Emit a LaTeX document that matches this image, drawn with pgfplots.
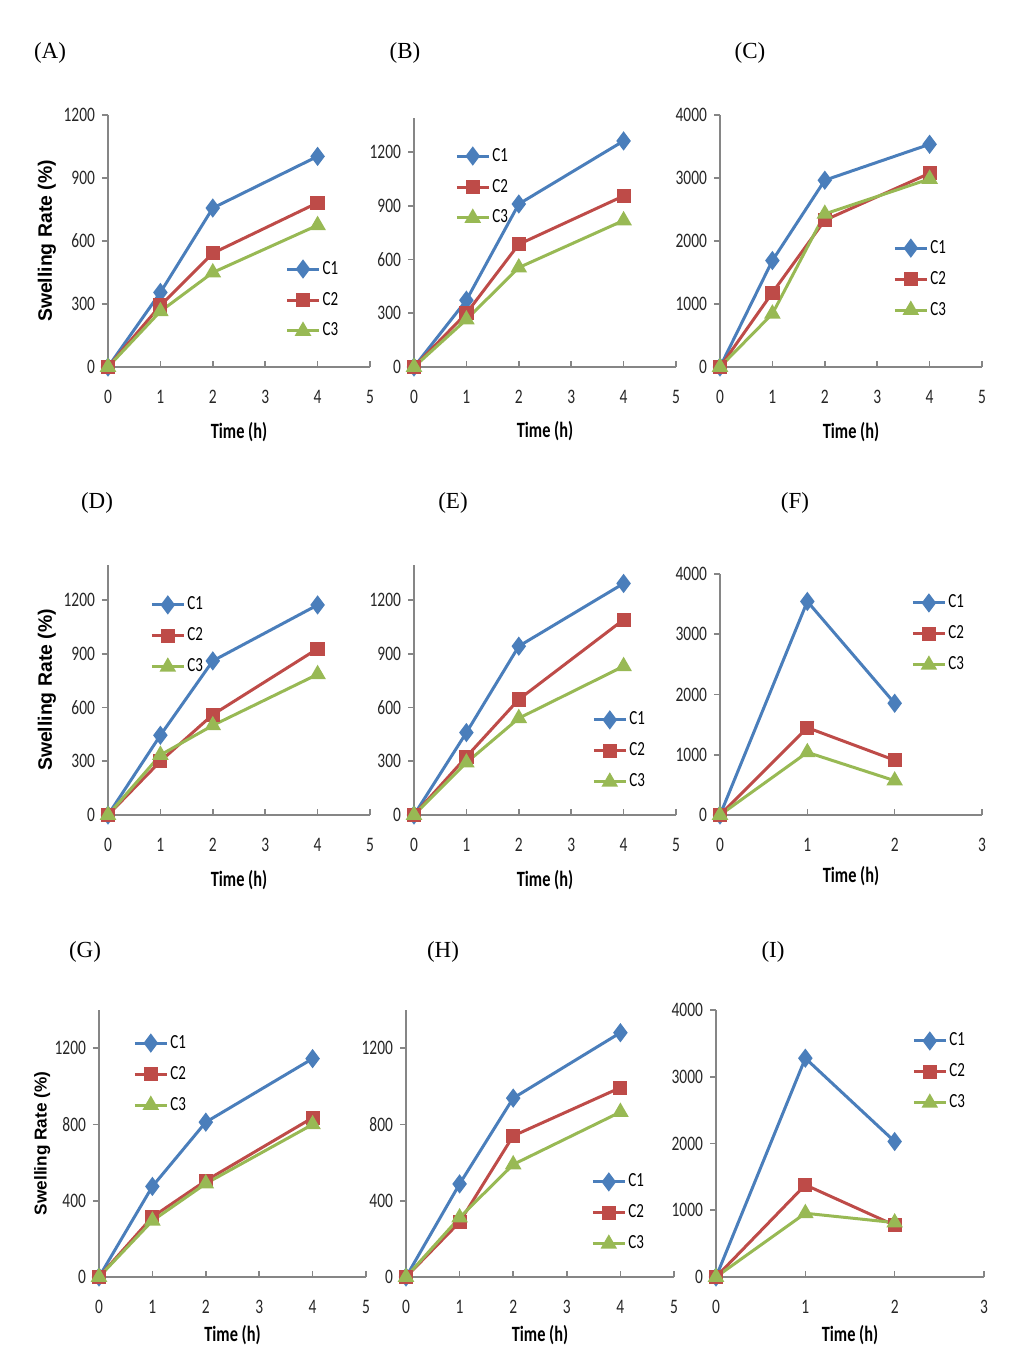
\documentclass[border=0pt]{standalone}
\usepackage{fontspec}
\usepackage{pgfplots}
\pgfplotsset{compat=1.18}
\setmainfont{Liberation Serif}
\newfontfamily\calf[FakeStretch=0.75]{Carlito}
\newfontfamily\arl{Liberation Sans}

\definecolor{cone}{HTML}{4A7EBB}
\definecolor{ctwo}{HTML}{BE4B48}
\definecolor{cthree}{HTML}{98B954}
\definecolor{axgray}{HTML}{868686}

\pgfplotscreateplotcyclelist{keit}{
  cone, line width=1.5pt, mark=diamond*, mark size=3.6pt, mark options={solid}\\
  ctwo, line width=1.5pt, mark=square*, mark size=2.8pt, mark options={solid}\\
  cthree, line width=1.5pt, mark=triangle*, mark size=3.3pt, mark options={solid}\\
}

\pgfplotsset{
  panel/.style={
    scale only axis, anchor=south west, clip=false,
    axis x line*=bottom, axis y line*=left,
    axis line style={axgray, line width=0.8pt, -},
    tick style={axgray, line width=0.8pt},
    major tick length=3pt, xtick align=inside, ytick align=outside,
    xmin=0, xmax=5, xtick={0,...,5}, ymin=0,
    cycle list name=keit,
    /pgf/number format/1000 sep={},
    /pgf/number format/assume math mode=true,
    ticklabel style={font=\calf\fontsize{10.3}{12}\selectfont, text=black!85},
    xticklabel style={yshift=-8pt},
    xlabel={Time (h)},
    xlabel style={font=\calf\bfseries\fontsize{10.9}{12}\selectfont, anchor=center},
    ylabel style={font=\arl\bfseries\fontsize{9.7}{11}\selectfont, anchor=center,
      at={(axis description cs:-0.233,0.5)}},
    legend cell align=left,
    legend style={draw=none, fill=none, anchor=north west, inner sep=0pt,
      row sep=5.5pt, font=\calf\fontsize{10}{12}\selectfont,
      nodes={inner sep=1pt}},
    legend image code/.code={\draw[mark repeat=2,mark phase=2,##1]
      plot coordinates {(0pt,0pt) (8pt,0pt) (16pt,0pt)};},
  },
  rowone/.style={width=131pt, height=126pt,
    xlabel style={at={(axis description cs:0.5,-0.258)}}},
  rowtwo/.style={width=131pt, height=125pt,
    xlabel style={at={(axis description cs:0.5,-0.26)}}},
  rowthree/.style={width=133.5pt, height=133.5pt,
    xlabel style={at={(axis description cs:0.5,-0.217)}}},
}

\begin{document}
\begin{tikzpicture}
\useasboundingbox (0,0) rectangle (518pt,-683pt);

% panel letters
\begin{scope}[font=\fontsize{11.5}{13}\selectfont]
\node at (25pt,-26.5pt) {(A)};
\node at (202.5pt,-26.5pt) {(B)};
\node at (375pt,-26.5pt) {(C)};
\node at (48.5pt,-251.5pt) {(D)};
\node at (226.5pt,-251.5pt) {(E)};
\node at (397.5pt,-251.5pt) {(F)};
\node at (42.5pt,-476pt) {(G)};
\node at (221.5pt,-476pt) {(H)};
\node at (386.5pt,-476pt) {(I)};
\end{scope}

% (A)
\begin{axis}[panel, rowone, at={(54pt,-183.5pt)}, ymax=1200, ytick={0,300,...,1200},
  ylabel={Swelling Rate (\%)}, legend style={at={(0.676,0.430)}}]
\addplot coordinates {(0,0)(1,355)(2,757)(4,1003)};
\addplot coordinates {(0,0)(1,293)(2,542)(4,782)};
\addplot coordinates {(0,0)(1,265)(2,450)(4,675)};
\legend{C1,C2,C3}
\end{axis}

% (B)
\begin{axis}[panel, rowone, height=124.5pt, at={(207pt,-183.5pt)}, ymax=1390,
  ytick={0,300,...,1200}, legend style={at={(0.156,0.889)}}]
\addplot coordinates {(0,0)(1,373)(2,910)(4,1262)};
\addplot coordinates {(0,0)(1,300)(2,685)(4,955)};
\addplot coordinates {(0,0)(1,265)(2,555)(4,818)};
\legend{C1,C2,C3}
\end{axis}

% (C)
\begin{axis}[panel, rowone, at={(360pt,-183.5pt)}, ymax=4000,
  ytick={0,1000,...,4000}, legend style={at={(0.660,0.513)}}]
\addplot coordinates {(0,0)(1,1690)(2,2965)(4,3535)};
\addplot coordinates {(0,0)(1,1180)(2,2330)(4,3075)};
\addplot coordinates {(0,0)(1,845)(2,2430)(4,2985)};
\legend{C1,C2,C3}
\end{axis}

% (D)
\begin{axis}[panel, rowtwo, at={(54pt,-407.5pt)}, ymax=1395, ytick={0,300,...,1200},
  ylabel={Swelling Rate (\%)}, legend style={at={(0.160,0.882)}}]
\addplot coordinates {(0,0)(1,445)(2,860)(4,1172)};
\addplot coordinates {(0,0)(1,300)(2,560)(4,928)};
\addplot coordinates {(0,0)(1,335)(2,500)(4,785)};
\legend{C1,C2,C3}
\end{axis}

% (E)
\begin{axis}[panel, rowtwo, at={(207pt,-407.5pt)}, ymax=1395, ytick={0,300,...,1200},
  legend style={at={(0.679,0.422)}}]
\addplot coordinates {(0,0)(1,460)(2,942)(4,1292)};
\addplot coordinates {(0,0)(1,325)(2,645)(4,1090)};
\addplot coordinates {(0,0)(1,292)(2,540)(4,830)};
\legend{C1,C2,C3}
\end{axis}

% (F)
\begin{axis}[panel, rowtwo, height=120.5pt, at={(360pt,-407.5pt)}, xmax=3, xtick={0,...,3},
  ymax=4000, ytick={0,1000,...,4000},
  xlabel style={at={(axis description cs:0.5,-0.253)}},
  legend style={at={(0.729,0.923)}}]
\addplot coordinates {(0,0)(1,3545)(2,1855)};
\addplot coordinates {(0,0)(1,1450)(2,910)};
\addplot coordinates {(0,0)(1,1040)(2,570)};
\legend{C1,C2,C3}
\end{axis}

% (G)
\begin{axis}[panel, rowthree, at={(49.5pt,-638.5pt)}, ymax=1400, ytick={0,400,...,1200},
  ylabel={Swelling Rate (\%)},
  ylabel style={font=\arl\bfseries\fontsize{8.6}{10}\selectfont,
    at={(axis description cs:-0.213,0.5)}},
  legend style={at={(0.127,0.915)}}]
\addplot coordinates {(0,0)(1,475)(2,812)(4,1145)};
\addplot coordinates {(0,0)(1,315)(2,505)(4,835)};
\addplot coordinates {(0,0)(1,295)(2,490)(4,800)};
\legend{C1,C2,C3}
\end{axis}

% (H)
\begin{axis}[panel, rowthree, width=134pt, at={(203pt,-638.5pt)}, ymax=1400,
  ytick={0,400,...,1200}, legend style={at={(0.690,0.395)}}]
\addplot coordinates {(0,0)(1,488)(2,938)(4,1281)};
\addplot coordinates {(0,0)(1,288)(2,740)(4,993)};
\addplot coordinates {(0,0)(1,312)(2,590)(4,865)};
\legend{C1,C2,C3}
\end{axis}

% (I)
\begin{axis}[panel, rowthree, width=134pt, at={(358pt,-638.5pt)}, xmax=3, xtick={0,...,3},
  ymax=4000, ytick={0,1000,...,4000}, legend style={at={(0.731,0.923)}}]
\addplot coordinates {(0,0)(1,3278)(2,2030)};
\addplot coordinates {(0,0)(1,1380)(2,775)};
\addplot coordinates {(0,0)(1,955)(2,815)};
\legend{C1,C2,C3}
\end{axis}
\end{tikzpicture}
\end{document}
